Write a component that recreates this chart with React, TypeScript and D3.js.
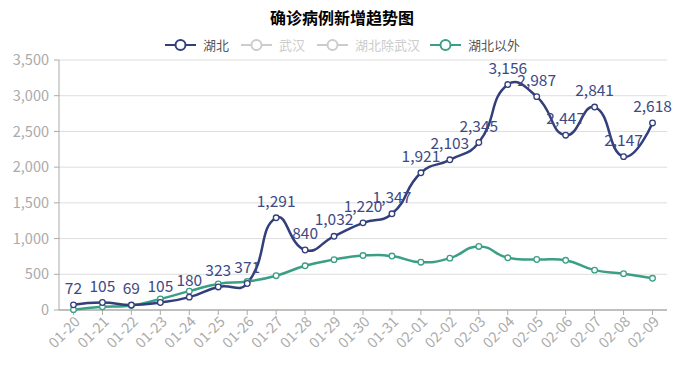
import { useMemo } from 'react'
import * as d3 from 'd3'

// Categories (dates) and series values
const dates = [
  '01-20', '01-21', '01-22', '01-23', '01-24', '01-25', '01-26', '01-27', '01-28', '01-29', '01-30',
  '01-31', '02-01', '02-02', '02-03', '02-04', '02-05', '02-06', '02-07', '02-08', '02-09',
]
const hubei = [72, 105, 69, 105, 180, 323, 371, 1291, 840, 1032, 1220, 1347, 1921, 2103, 2345, 3156, 2987, 2447, 2841, 2147, 2618]
const outsideHubei = [5, 44, 62, 154, 264, 365, 398, 480, 619, 705, 762, 755, 669, 726, 890, 731, 707, 696, 558, 509, 444]
const yTicks = [0, 500, 1000, 1500, 2000, 2500, 3000, 3500]
const legendNames = ['湖北', '武汉', '湖北除武汉', '湖北以外']
const legendActive = [true, false, false, true]

const NAVY = '#323f7b'
const GREEN = '#3b9f86'
const FONT = '"Noto Sans CJK SC", "Noto Sans", sans-serif'

const width = 685
const height = 372
const margin = { top: 60, right: 18, bottom: 62, left: 59 }

// echarts-like smooth bezier (smooth = 0.5)
function smoothPath(pts: [number, number][], smooth = 0.5) {
  let d = `M${pts[0][0]},${pts[0][1]}`
  let cp0: [number, number] = [pts[0][0], pts[0][1]]
  for (let i = 1; i < pts.length; i++) {
    const p = pts[i]
    const prev = pts[i - 1]
    const next = pts[i + 1]
    let cp1: [number, number] = [p[0], p[1]]
    let ratio = 0.5
    let v: [number, number] = [0, 0]
    if (next) {
      v = [next[0] - prev[0], next[1] - prev[1]]
      const lp = Math.hypot(p[0] - prev[0], p[1] - prev[1])
      const ln = Math.hypot(p[0] - next[0], p[1] - next[1])
      ratio = ln / (ln + lp)
      cp1 = [p[0] - v[0] * smooth * (1 - ratio), p[1] - v[1] * smooth * (1 - ratio)]
    }
    d += `C${cp0[0]},${cp0[1]},${cp1[0]},${cp1[1]},${p[0]},${p[1]}`
    cp0 = next ? [p[0] + v[0] * smooth * ratio, p[1] + v[1] * smooth * ratio] : [p[0], p[1]]
  }
  return d
}

const App = () => {
  const x = useMemo(
    () => d3.scaleBand<string>().domain(dates).range([margin.left, width - margin.right]),
    []
  )
  const y = useMemo(
    () => d3.scaleLinear().domain([0, 3500]).range([height - margin.bottom, margin.top]),
    []
  )
  const cx = (d: string) => (x(d) as number) + x.bandwidth() / 2
  const hubeiPts = dates.map((d, i) => [cx(d), y(hubei[i])] as [number, number])
  const outsidePts = dates.map((d, i) => [cx(d), y(outsideHubei[i])] as [number, number])
  const fmt = d3.format(',')

  // legend layout
  const legendX = [165, 241, 317, 430]
  const legendColor = [NAVY, '#ccc', '#ccc', GREEN]

  return (
    <svg width={width} height={height} style={{ position: 'absolute', left: 0, top: 0 }} fontFamily={FONT}>
      <rect width={width} height={height} fill="#fff" />
      <text x={342} y={24} textAnchor="middle" fontSize={16} fontWeight="bold" fill="#000">
        确诊病例新增趋势图
      </text>

      {legendNames.map((name, i) => (
        <g key={name} transform={`translate(${legendX[i]},45)`}>
          <line x1={0} x2={31} y1={0} y2={0} stroke={legendActive[i] ? legendColor[i] : '#ccc'} strokeWidth={2} />
          <circle cx={15.5} cy={0} r={5} fill="#fff" stroke={legendActive[i] ? legendColor[i] : '#ccc'} strokeWidth={2} />
          <text x={38} y={0} dy="0.35em" fontSize={13} fill={legendActive[i] ? '#555' : '#ccc'}>
            {name}
          </text>
        </g>
      ))}

      {/* grid + y axis */}
      {yTicks.map((t) => (
        <g key={t}>
          {t > 0 && (
            <line x1={margin.left} x2={width - margin.right} y1={y(t)} y2={y(t)} stroke="#ddd" strokeWidth={1} />
          )}
          <line x1={margin.left - 5} x2={margin.left} y1={y(t)} y2={y(t)} stroke="#aaa" />
          <text x={margin.left - 10} y={y(t)} dy="0.35em" textAnchor="end" fontSize={14.5} fill="#aaa">
            {fmt(t)}
          </text>
        </g>
      ))}
      <line x1={margin.left} x2={margin.left} y1={margin.top} y2={y(0)} stroke="#aaa" />

      {/* x axis */}
      <line x1={margin.left} x2={width - margin.right} y1={y(0)} y2={y(0)} stroke="#aaa" strokeWidth={1.5} />
      {dates.map((d) => (
        <g key={d}>
          <line x1={cx(d)} x2={cx(d)} y1={y(0)} y2={y(0) + 5} stroke="#aaa" />
          <text
            transform={`translate(${cx(d) + 4},${y(0) + 9}) rotate(-45)`}
            textAnchor="end"
            dy="0.35em"
            fontSize={14.5}
            fill="#aaa"
          >
            {d}
          </text>
        </g>
      ))}

      {/* series lines */}
      <path d={smoothPath(outsidePts)} fill="none" stroke={GREEN} strokeWidth={2.5} />
      <path d={smoothPath(hubeiPts)} fill="none" stroke={NAVY} strokeWidth={2.5} />

      {outsidePts.map((p, i) => (
        <circle key={'o' + i} cx={p[0]} cy={p[1]} r={2.8} fill="#fff" stroke={GREEN} strokeWidth={1.3} />
      ))}
      {hubeiPts.map((p, i) => (
        <circle key={'h' + i} cx={p[0]} cy={p[1]} r={2.8} fill="#fff" stroke={NAVY} strokeWidth={1.3} />
      ))}

      {/* value labels */}
      {hubeiPts.map((p, i) => (
        <text key={'l' + i} x={p[0]} y={p[1] - 11} textAnchor="middle" fontSize={15.5} fill="#3d4a86">
          {fmt(hubei[i])}
        </text>
      ))}
    </svg>
  )
}

export default App
